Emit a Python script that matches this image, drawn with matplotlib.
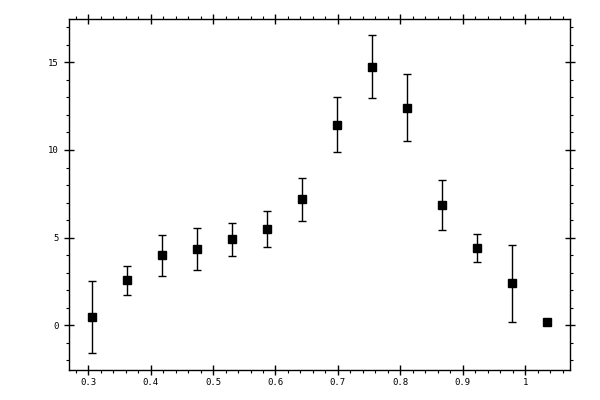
"""
    Matplotlib, error bar plot with square markers
"""
import matplotlib.pyplot as plt
from matplotlib.ticker import MultipleLocator

plt.rcParams['font.family'] = ['DejaVu Sans Mono']

# data
x_vals = [0.3064, 0.3625, 0.4186, 0.4747, 0.5308, 0.5869, 0.6430,
          0.6991, 0.7552, 0.8113, 0.8674, 0.9235, 0.9796, 1.0357]
y_vals = [0.45, 2.56, 3.99, 4.33, 4.90, 5.47, 7.18,
          11.45, 14.76, 12.42, 6.84, 4.39, 2.39, 0.17]
y_err = [2.05, 0.83, 1.15, 1.20, 0.95, 1.03, 1.22,
         1.57, 1.78, 1.91, 1.43, 0.80, 2.20, 0.0]

x_ticks = [0.3, 0.4, 0.5, 0.6, 0.7, 0.8, 0.9, 1.0]
x_tick_labels = ["0.3", "0.4", "0.5", "0.6", "0.7", "0.8", "0.9", "1"]
y_ticks = [0, 5, 10, 15]

fig = plt.figure(figsize=(6, 4), dpi=100)
ax = fig.add_axes([0.1158, 0.075, 0.834, 0.8775])

ax.errorbar(x_vals, y_vals, yerr=y_err, fmt='s', color='black',
            markersize=5.2, elinewidth=1.0, capsize=3.2, capthick=1.0)

ax.set_xlim(0.270, 1.0716)
ax.set_ylim(-2.55, 17.47)

ax.set_xticks(x_ticks)
ax.set_xticklabels(x_tick_labels)
ax.set_yticks(y_ticks)
ax.xaxis.set_minor_locator(MultipleLocator(0.02))
ax.yaxis.set_minor_locator(MultipleLocator(1))

ax.tick_params(which='major', direction='inout', length=7, width=1.0,
               top=True, right=True, labelsize=6.5, pad=2)
ax.tick_params(which='minor', direction='out', length=2.5, width=0.8,
               top=True, right=True)
ax.tick_params(axis='y', which='major', pad=4)

for spine in ax.spines.values():
    spine.set_linewidth(1.0)

plt.savefig("out.png", dpi=100)
